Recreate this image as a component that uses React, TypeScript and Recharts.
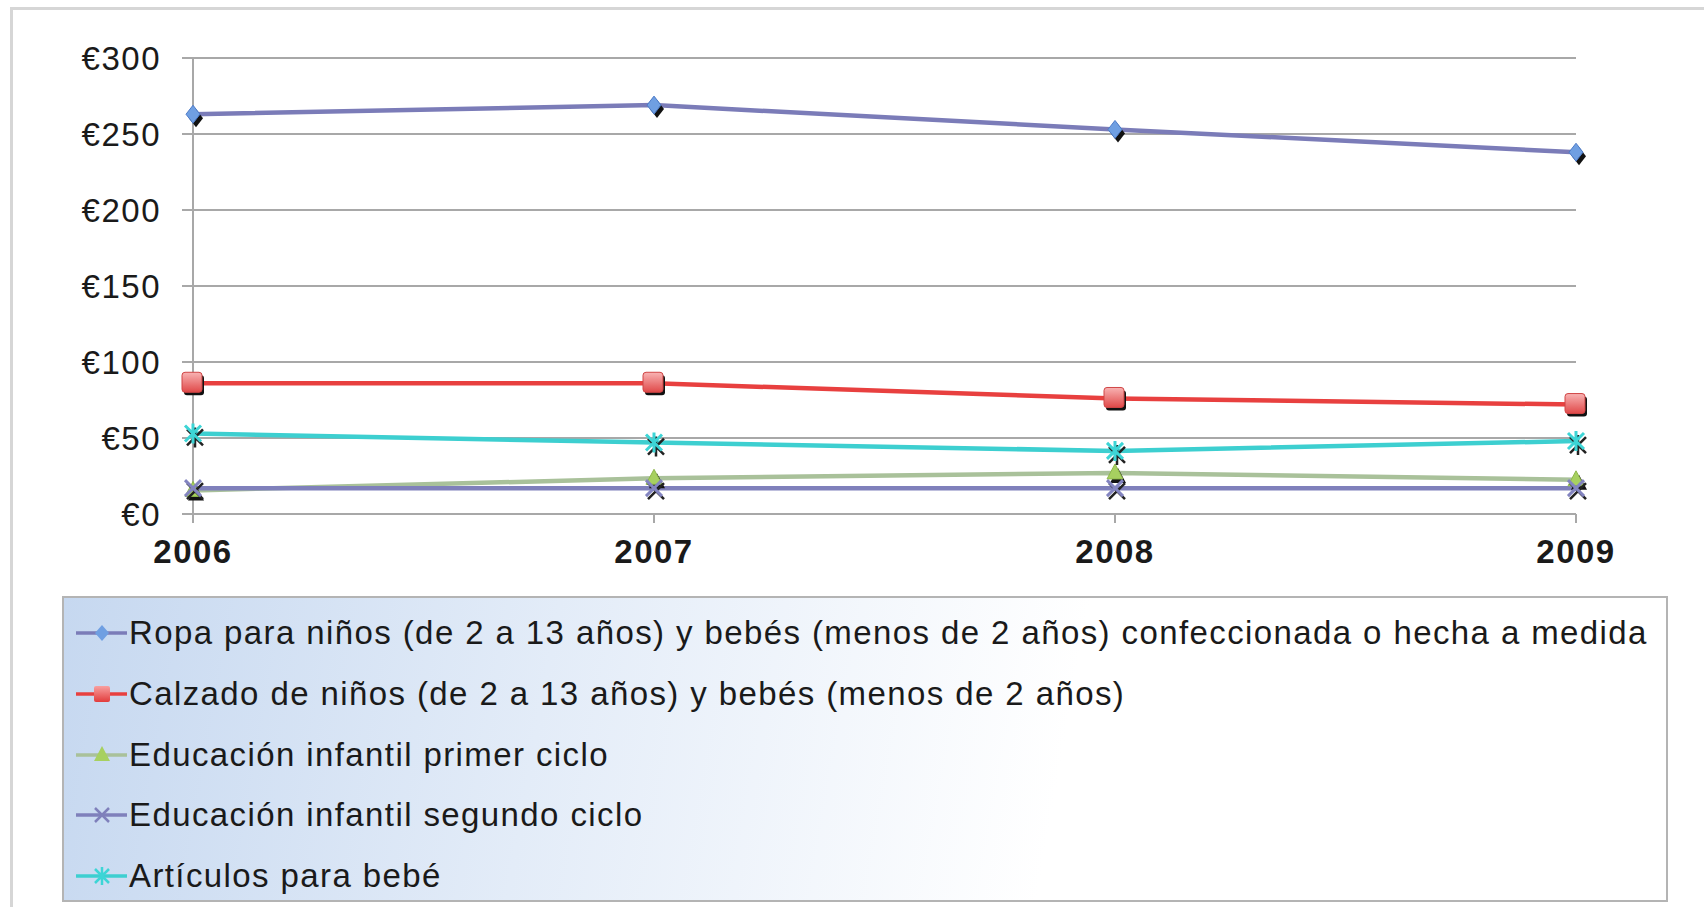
import React from 'react'
import { LineChart, Line, XAxis, YAxis, CartesianGrid, Legend } from 'recharts'

const years = ['2006', '2007', '2008', '2009']
const ropa = [263, 269, 253, 238]
const calzado = [86, 86, 76, 72]
const eduPrimer = [15.5, 23.5, 27, 22.5]
const eduSegundo = [17, 17, 17, 17]
const articulos = [53, 47, 41.5, 48]
const yTicks = [0, 50, 100, 150, 200, 250, 300]

const seriesOrder = ['ropa', 'calzado', 'eduPrimer', 'eduSegundo', 'articulos']
const seriesNames = {
  ropa: 'Ropa para niños (de 2 a 13 años) y bebés (menos de 2 años) confeccionada o hecha a medida',
  calzado: 'Calzado de niños (de 2 a 13 años) y bebés (menos de 2 años)',
  eduPrimer: 'Educación infantil primer ciclo',
  eduSegundo: 'Educación infantil segundo ciclo',
  articulos: 'Artículos para bebé',
}

const data = years.map((year, i) => ({
  year,
  ropa: ropa[i],
  calzado: calzado[i],
  eduPrimer: eduPrimer[i],
  eduSegundo: eduSegundo[i],
  articulos: articulos[i],
}))

const FONT = '"Liberation Sans", Arial, sans-serif'
const GRID = '#a8a8a8'

const colors = {
  ropa: '#7b7cb8',
  calzado: '#e8403f',
  eduPrimer: '#a9c19a',
  eduSegundo: '#7f80bb',
  articulos: '#3dcfd0',
}

// marker shapes (with the dark offset shadow seen in the original)
const diamond = (cx: number, cy: number, w = 7, h = 9) =>
  `${cx},${cy - h} ${cx + w},${cy} ${cx},${cy + h} ${cx - w},${cy}`
const triangle = (cx: number, cy: number, s = 8) =>
  `${cx},${cy - s - 1} ${cx + s},${cy + s - 2} ${cx - s},${cy + s - 2}`

const xPath = (cx: number, cy: number, s = 8) =>
  `M${cx - s},${cy - s}L${cx + s},${cy + s}M${cx + s},${cy - s}L${cx - s},${cy + s}`
const starPath = (cx: number, cy: number, s = 8) =>
  `${xPath(cx, cy, s)}M${cx},${cy - s - 2}L${cx},${cy + s + 2}`

const RopaDot = ({ cx, cy }: any) => (
  <g>
    <polygon points={diamond(cx + 3, cy + 4)} fill='#111' />
    <polygon points={diamond(cx, cy)} fill='#6f9fe2' stroke='#4d7bc8' strokeWidth={1} />
  </g>
)
const CalzadoDot = ({ cx, cy }: any) => (
  <g>
    <rect x={cx - 9} y={cy - 8} width={20} height={20} rx={3} fill='#111' />
    <rect x={cx - 11} y={cy - 11} width={20} height={20} rx={3} fill='url(#sqGrad)' stroke='#d04545' strokeWidth={1} />
  </g>
)
const EduPrimerDot = ({ cx, cy }: any) => (
  <g>
    <polygon points={triangle(cx + 3, cy + 4)} fill='#111' />
    <polygon points={triangle(cx, cy)} fill='#a7d060' stroke='#8fb84c' strokeWidth={1} />
  </g>
)
const EduSegundoDot = ({ cx, cy }: any) => (
  <g>
    <path d={xPath(cx + 2, cy + 3)} stroke='#222' strokeWidth={2.5} />
    <path d={xPath(cx, cy)} stroke='#8384c0' strokeWidth={3} />
  </g>
)
const ArticulosDot = ({ cx, cy }: any) => (
  <g>
    <path d={starPath(cx + 2, cy + 4)} stroke='#222' strokeWidth={2.5} />
    <path d={starPath(cx, cy)} stroke='#3dd5d6' strokeWidth={3} />
  </g>
)

const legendIcons: Record<string, (cx: number, cy: number) => React.ReactNode> = {
  ropa: (cx, cy) => <polygon points={diamond(cx, cy, 7, 8)} fill='#6f9fe2' />,
  calzado: (cx, cy) => <rect x={cx - 8} y={cy - 8} width={16} height={16} rx={2} fill='url(#sqGradL)' />,
  eduPrimer: (cx, cy) => <polygon points={triangle(cx, cy, 8)} fill='#a7d060' />,
  eduSegundo: (cx, cy) => <path d={xPath(cx, cy, 7)} stroke='#7f80bb' strokeWidth={2.5} />,
  articulos: (cx, cy) => <path d={starPath(cx, cy, 7)} stroke='#3dd5d6' strokeWidth={2.5} />,
}

const YTick = ({ x, y, payload }: any) => (
  <text x={x} y={y} textAnchor='end' dy='0.36em' fontSize={33} letterSpacing={1.5} fontFamily={FONT} fill='#1a1a1a'>
    €{payload.value}
  </text>
)

const XTick = ({ x, y, payload }: any) => (
  <text x={x} y={y} textAnchor='middle' dy='0.71em' fontSize={33} fontWeight='bold' letterSpacing={1.5} fontFamily={FONT} fill='#1a1a1a'>
    {payload.value}
  </text>
)

const LegendBox = ({ payload }: any) => {
  const items = [...(payload || [])].sort(
    (a: any, b: any) => seriesOrder.indexOf(a.dataKey) - seriesOrder.indexOf(b.dataKey)
  )
  return (
    <div
      style={{
        width: 1602,
        height: 302,
        border: '2px solid #b4b4b4',
        background: 'linear-gradient(100deg, #c6d8f0 0%, #e3ecf8 30%, #ffffff 62%)',
        position: 'relative',
        fontFamily: FONT,
      }}
    >
      {items.map((item: any, i: number) => (
        <div
          key={item.dataKey}
          style={{ position: 'absolute', left: 10, top: 35 + i * 60.75 - 22, height: 44, display: 'flex', alignItems: 'center' }}
        >
          <svg width={54} height={44}>
            <line x1={2} y1={22} x2={53} y2={22} stroke={item.color} strokeWidth={3.5} />
            {legendIcons[item.dataKey](28, 22)}
          </svg>
          <span style={{ fontSize: 33, letterSpacing: 1.4, color: '#1a1a1a', whiteSpace: 'nowrap', marginLeft: 1 }}>
            {item.value}
          </span>
        </div>
      ))}
    </div>
  )
}

export default function App() {
  return (
    <div style={{ position: 'absolute', left: 0, top: 0, width: 1704, height: 907, overflow: 'hidden', background: '#fff' }}>
      <div
        style={{
          position: 'absolute',
          left: 10,
          top: 7,
          width: 1720,
          height: 920,
          border: '3px solid #d6d6d6',
        }}
      />
      <div style={{ position: 'absolute', left: 0, top: 0 }}>
        <LineChart width={1704} height={907} data={data} margin={{ top: 58, right: 128, left: 93, bottom: 333 }}>
          <defs>
            <linearGradient id='sqGrad' x1='0' y1='0' x2='0' y2='1'>
              <stop offset='0%' stopColor='#f8b3b3' />
              <stop offset='100%' stopColor='#e04848' />
            </linearGradient>
            <linearGradient id='sqGradL' x1='0' y1='0' x2='0' y2='1'>
              <stop offset='0%' stopColor='#f8a0a0' />
              <stop offset='100%' stopColor='#e23c3c' />
            </linearGradient>
          </defs>
          <CartesianGrid vertical={false} stroke={GRID} strokeWidth={2} />
          <XAxis
            dataKey='year'
            padding={{ left: 0, right: 0 }}
            height={60}
            stroke={GRID}
            strokeWidth={2}
            tickSize={9}
            tickMargin={17}
            tick={<XTick />}
            interval={0}
          />
          <YAxis
            domain={[0, 300]}
            ticks={yTicks}
            width={100}
            stroke={GRID}
            strokeWidth={2}
            tickSize={11}
            tickMargin={21}
            tick={<YTick />}
          />
          <Legend
            layout='vertical'
            align='center'
            verticalAlign='middle'
            itemSorter={null}
            content={<LegendBox />}
            wrapperStyle={{ position: 'absolute', left: 62, top: 596, width: 1606, height: 306 }}
          />
          <Line dataKey='ropa' name={seriesNames.ropa} stroke={colors.ropa} strokeWidth={4.5} dot={<RopaDot />} activeDot={false} isAnimationActive={false} />
          <Line dataKey='calzado' name={seriesNames.calzado} stroke={colors.calzado} strokeWidth={4.5} dot={<CalzadoDot />} activeDot={false} isAnimationActive={false} />
          <Line dataKey='eduPrimer' name={seriesNames.eduPrimer} stroke={colors.eduPrimer} strokeWidth={4.5} dot={<EduPrimerDot />} activeDot={false} isAnimationActive={false} />
          <Line dataKey='eduSegundo' name={seriesNames.eduSegundo} stroke={colors.eduSegundo} strokeWidth={4.5} dot={<EduSegundoDot />} activeDot={false} isAnimationActive={false} />
          <Line dataKey='articulos' name={seriesNames.articulos} stroke={colors.articulos} strokeWidth={4.5} dot={<ArticulosDot />} activeDot={false} isAnimationActive={false} />
        </LineChart>
      </div>
    </div>
  )
}
